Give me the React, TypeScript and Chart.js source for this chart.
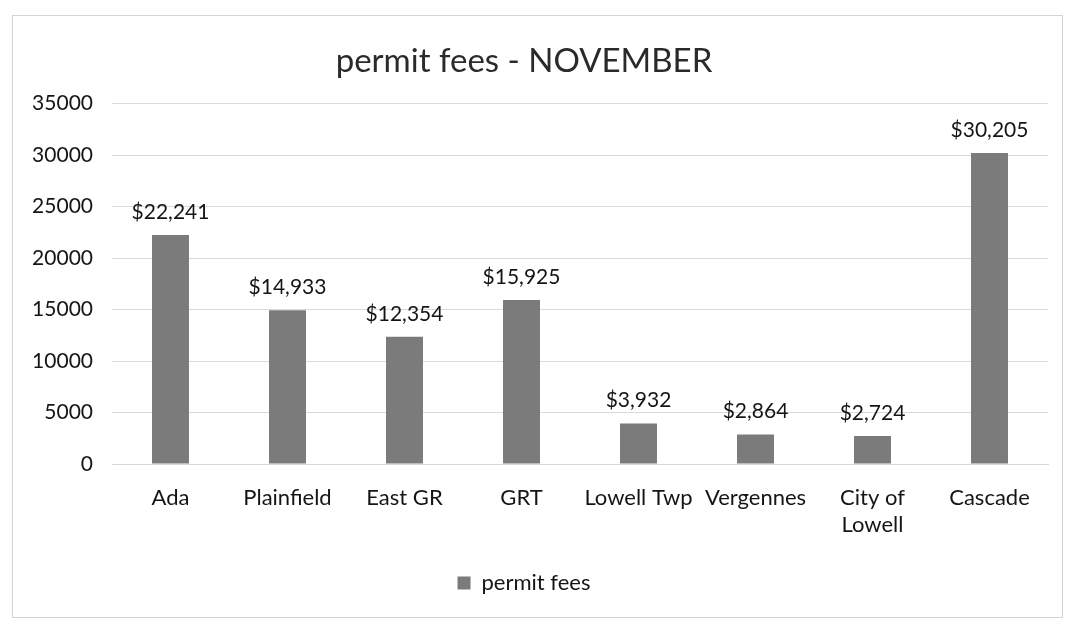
import React, { useEffect, useRef } from "react";
import { Chart, registerables } from "chart.js";

Chart.register(...registerables);

const categories: (string | string[])[] = [
  "Ada",
  "Plainfield",
  "East GR",
  "GRT",
  "Lowell Twp",
  "Vergennes",
  ["City of", "Lowell"],
  "Cascade",
];
const permitFees: number[] = [22241, 14933, 12354, 15925, 3932, 2864, 2724, 30205];
const yTicks: number[] = [0, 5000, 10000, 15000, 20000, 25000, 30000, 35000];

const FONT = "Lato, 'Open Sans', 'Liberation Sans', sans-serif";
const TEXT = "#151515";
const BAR = "#7b7b7b";

const valueLabels = {
  id: "valueLabels",
  afterDatasetsDraw(chart: any) {
    const ctx = chart.ctx;
    const meta = chart.getDatasetMeta(0);
    const data = chart.data.datasets[0].data as number[];
    ctx.save();
    ctx.font = `21px ${FONT}`;
    ctx.fillStyle = TEXT;
    ctx.textAlign = "center";
    ctx.textBaseline = "middle";
    meta.data.forEach((bar: any, i: number) => {
      ctx.fillText("$" + data[i].toLocaleString("en-US"), bar.x, bar.y - 23);
    });
    ctx.restore();
  },
};

export default function App() {
  const ref = useRef<HTMLCanvasElement>(null);
  useEffect(() => {
    if (!ref.current) return;
    const chart = new Chart(ref.current, {
      type: "bar",
      data: {
        labels: categories,
        datasets: [
          {
            label: "permit fees",
            data: permitFees,
            backgroundColor: BAR,
            borderWidth: 0,
            categoryPercentage: 1,
            barPercentage: 0.316,
          },
        ],
      },
      options: {
        responsive: false,
        animation: false,
        devicePixelRatio: 1,
        layout: { padding: { left: 0, right: 22, top: 0, bottom: 17 } },
        plugins: {
          title: {
            display: true,
            text: "permit fees - NOVEMBER",
            color: "#2a2a2a",
            font: { family: FONT, size: 33, weight: "normal", lineHeight: 1.2 },
            padding: { top: 42, bottom: 22 },
          },
          legend: {
            position: "bottom",
            labels: {
              color: TEXT,
              font: { family: FONT, size: 22, lineHeight: 1.2 },
              boxWidth: 13,
              boxHeight: 13,
              padding: 30,
            },
          },
          tooltip: { enabled: false },
        },
        scales: {
          x: {
            afterFit(scale: any) {
              scale.height = 78;
            },
            grid: { display: false, drawTicks: false },
            border: { display: true, color: "#d6d6d6" },
            ticks: {
              color: TEXT,
              font: { family: FONT, size: 22, lineHeight: 1.25 },
              padding: 20,
              maxRotation: 0,
              autoSkip: false,
            },
          },
          y: {
            min: 0,
            max: 35000,
            afterFit(scale: any) {
              scale.width = 112;
            },
            afterBuildTicks(scale: any) {
              scale.ticks = yTicks.map((v) => ({ value: v }));
            },
            grid: { color: "#dadada", drawTicks: false },
            border: { display: false },
            ticks: {
              color: TEXT,
              font: { family: FONT, size: 21 },
              padding: 19,
              callback: (v: any) => String(v),
            },
          },
        },
      },
      plugins: [valueLabels],
    });
    return () => chart.destroy();
  }, []);

  return (
    <div style={{ position: "fixed", left: 0, top: 0, width: 1070, height: 621, background: "#fff" }}>
      <div
        style={{
          position: "absolute",
          left: 12,
          top: 15,
          width: 1049,
          height: 601,
          border: "1px solid #d4d4d4",
        }}
      />
      <canvas
        ref={ref}
        width={1070}
        height={621}
        style={{ position: "absolute", left: 0, top: 0, width: 1070, height: 621 }}
      />
    </div>
  );
}
